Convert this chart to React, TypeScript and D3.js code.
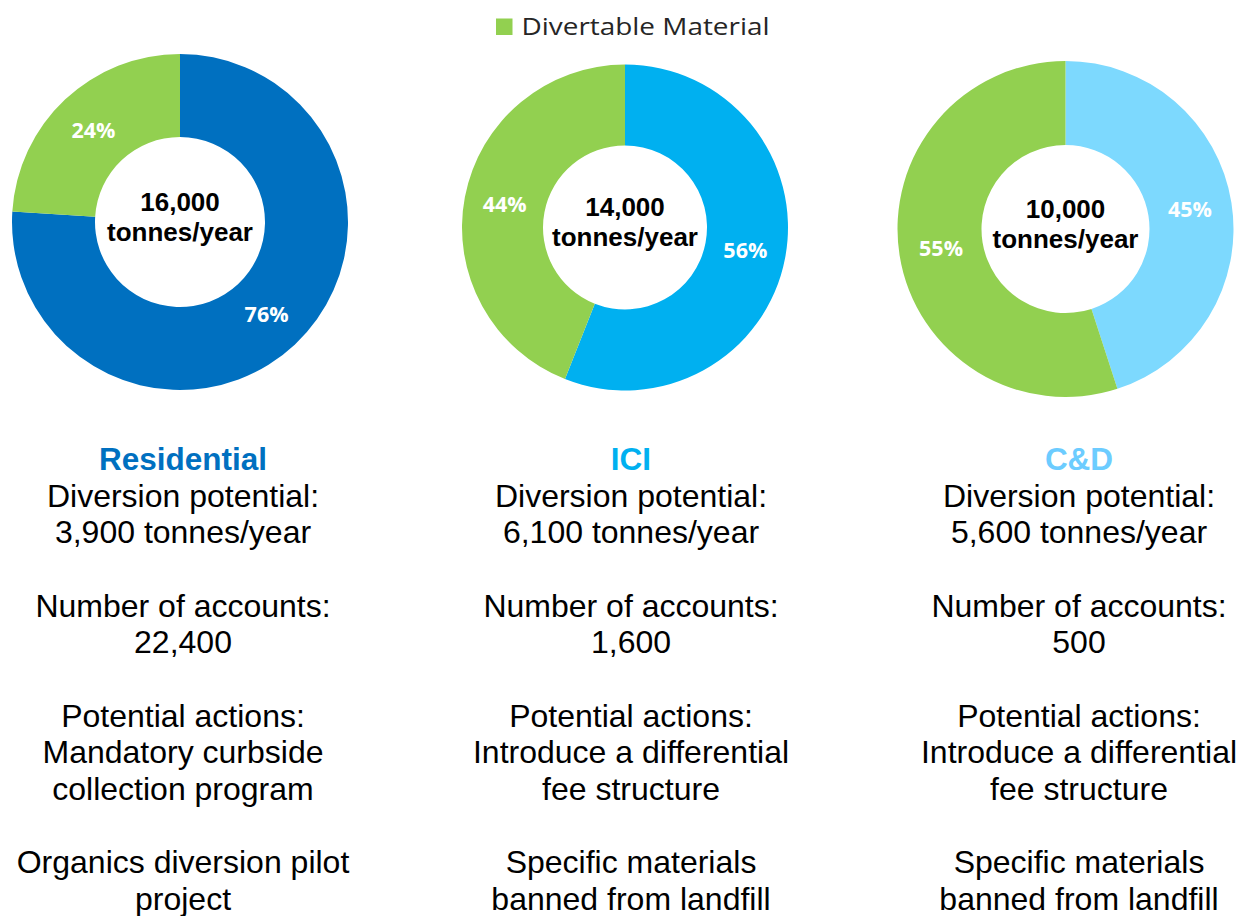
import React from "react";
import * as d3 from "d3";

const categories = ["Residential", "ICI", "C&D"];
const totals = ["16,000", "14,000", "10,000"];
const remainingShare = [76, 56, 45];
const divertableShare = [24, 44, 55];
const diversionPotential = ["3,900", "6,100", "5,600"];
const accounts = ["22,400", "1,600", "500"];
const actionsA = [
  ["Mandatory curbside", "collection program"],
  ["Introduce a differential", "fee structure"],
  ["Introduce a differential", "fee structure"],
];
const actionsB = [
  ["Organics diversion pilot", "project"],
  ["Specific materials", "banned from landfill"],
  ["Specific materials", "banned from landfill"],
];
const legendLabel = "Divertable Material";

const categoryColors = ["#0070C0", "#00B0F0", "#7DD9FE"];
const titleColors = ["#0070C0", "#00B0F0", "#6CCCFF"];
const green = "#92D050";

const donuts = [
  { cx: 180, cy: 222, R: 168, r: 85 },
  { cx: 625, cy: 227.5, R: 163, r: 82 },
  { cx: 1065.5, cy: 229, R: 168, r: 84 },
];
const columnX = [183, 631, 1079];

export default function App() {
  const pie = d3
    .pie<{ key: string; value: number }>()
    .sort(null)
    .value((d) => d.value);

  const lineH = 36.65;
  const baseY = 470;

  return (
    <svg
      width={1244}
      height={916}
      style={{ position: "absolute", left: 0, top: 0, background: "#fff" }}
    >
      {/* legend */}
      <rect x={496} y={18.5} width={16.5} height={16.5} fill={green} />
      <text
        x={521.5}
        y={35}
        fontFamily="'Open Sans', sans-serif"
        fontSize={24}
        textLength={248}
        lengthAdjust="spacingAndGlyphs"
        fill="#262626"
      >
        {legendLabel}
      </text>

      {categories.map((cat, i) => {
        const g = donuts[i];
        const data = [
          { key: "other", value: remainingShare[i] },
          { key: "divertable", value: divertableShare[i] },
        ];
        const arcs = pie(data);
        const arc = d3
          .arc<d3.PieArcDatum<{ key: string; value: number }>>()
          .innerRadius(g.r)
          .outerRadius(g.R);
        const labelArc = d3
          .arc<d3.PieArcDatum<{ key: string; value: number }>>()
          .innerRadius((g.r + g.R) / 2)
          .outerRadius((g.r + g.R) / 2);
        return (
          <g key={cat}>
            <g transform={`translate(${g.cx},${g.cy})`}>
              {arcs.map((a) => (
                <path
                  key={a.data.key}
                  d={arc(a) || ""}
                  fill={a.data.key === "divertable" ? green : categoryColors[i]}
                />
              ))}
              {arcs.map((a) => {
                const [lx, ly] = labelArc.centroid(a);
                return (
                  <text
                    key={"l" + a.data.key}
                    x={lx}
                    y={ly}
                    dy="0.36em"
                    textAnchor="middle"
                    fontFamily="'Open Sans', sans-serif"
                    fontWeight={700}
                    fontSize={21.5}
                    fill="#fff"
                  >
                    {a.data.value + "%"}
                  </text>
                );
              })}
              <text
                y={-11.5}
                textAnchor="middle"
                fontFamily="'Liberation Sans', Arial, sans-serif"
                fontWeight={700}
                fontSize={26}
                fill="#000"
              >
                {totals[i]}
              </text>
              <text
                y={18.5}
                textAnchor="middle"
                fontFamily="'Liberation Sans', Arial, sans-serif"
                fontWeight={700}
                fontSize={26}
                fill="#000"
              >
                tonnes/year
              </text>
            </g>
            <g
              fontFamily="'Liberation Sans', Arial, sans-serif"
              fontSize={32}
              textAnchor="middle"
              fill="#000"
            >
              <text
                x={columnX[i]}
                y={baseY}
                fontWeight={700}
                fontSize={31.5}
                fill={titleColors[i]}
              >
                {cat}
              </text>
              <text x={columnX[i]} y={baseY + lineH * 1}>
                Diversion potential:
              </text>
              <text x={columnX[i]} y={baseY + lineH * 2}>
                {diversionPotential[i] + " tonnes/year"}
              </text>
              <text x={columnX[i]} y={baseY + lineH * 4}>
                Number of accounts:
              </text>
              <text x={columnX[i]} y={baseY + lineH * 5}>
                {accounts[i]}
              </text>
              <text x={columnX[i]} y={baseY + lineH * 7}>
                Potential actions:
              </text>
              <text x={columnX[i]} y={baseY + lineH * 8}>
                {actionsA[i][0]}
              </text>
              <text x={columnX[i]} y={baseY + lineH * 9}>
                {actionsA[i][1]}
              </text>
              <text x={columnX[i]} y={baseY + lineH * 11}>
                {actionsB[i][0]}
              </text>
              <text x={columnX[i]} y={baseY + lineH * 12}>
                {actionsB[i][1]}
              </text>
            </g>
          </g>
        );
      })}
    </svg>
  );
}
